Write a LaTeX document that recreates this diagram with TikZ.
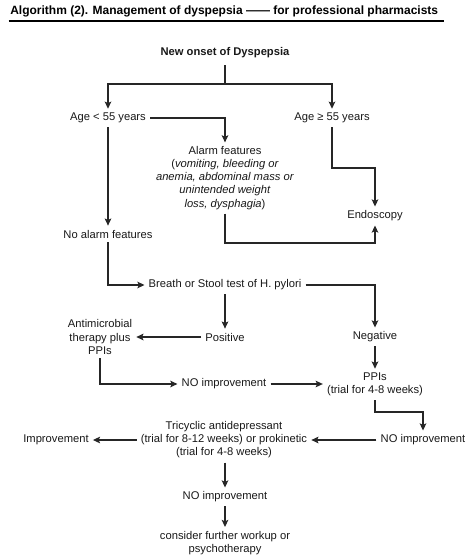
\documentclass[tikz,border=0pt]{standalone}
\usepackage{fontspec}
\setmainfont{Liberation Sans}
\usetikzlibrary{arrows.meta}
\begin{document}
\begin{tikzpicture}[x=0.75pt,y=-0.75pt,
  txt/.style={font=\fontsize{8.4pt}{9.8pt}\selectfont, align=center, inner sep=3pt, text=black!90},
  ln/.style={line width=0.8pt, draw=black!85},
  arr/.style={ln, -{Stealth[length=5.4pt,width=5pt,inset=1.2pt]}}]
\useasboundingbox[fill=white] (0,0) rectangle (474,557);
\node[anchor=base west, font=\bfseries\fontsize{9pt}{11pt}\selectfont, inner sep=0] (title) at (10,14) {Algorithm (2). Management of dyspepsia —— for professional pharmacists};
\draw[line width=1.4pt] ([xshift=-1pt,yshift=-5pt]title.base west) -- ([xshift=4pt,yshift=-5pt]title.base east);

\node[txt, font=\bfseries\fontsize{8.4pt}{9.8pt}\selectfont, inner ysep=5pt] (start) at (225,53) {New onset of Dyspepsia};
\node[txt] (age1) at (108,118) {Age < 55 years};
\node[txt] (age2) at (332,118) {Age ≥ 55 years};
\node[txt] (alarm) at (225,178) {Alarm features\\(\textit{vomiting, bleeding or}\\\textit{anemia, abdominal mass or}\\\textit{unintended weight}\\\textit{loss, dysphagia})};
\node[txt] (endo) at (375,216) {Endoscopy};
\node[txt] (noalarm) at (108,234) {No alarm features};
\node[txt] (breath) at (225,285) {Breath or Stool test of H. pylori};
\node[txt] (pos) at (225,337) {Positive};
\node[txt] (neg) at (375,337) {Negative};
\node[txt] (anti) at (100,337) {Antimicrobial\\therapy plus\\PPIs};
\node[txt] (noimp1) at (224,384) {NO improvement};
\node[txt] (ppis) at (375,384.5) {PPIs\\(trial for 4-8 weeks)};
\node[txt] (noimp2) at (423,440) {NO improvement};
\node[txt] (tri) at (224,440) {Tricyclic antidepressant\\(trial for 8-12 weeks) or prokinetic\\(trial for 4-8 weeks)};
\node[txt] (imp) at (56,440) {Improvement};
\node[txt] (noimp3) at (225,497) {NO improvement};
\node[txt] (consider) at (225,543) {consider further workup or\\psychotherapy};

\coordinate (j1) at (225,84);
\coordinate (b1) at (332,168);
\coordinate (b2) at (225,243);
\coordinate (b3) at (375,412);

\draw[ln] (start) -- (j1);
\draw[arr] (j1) -| (age1);
\draw[arr] (j1) -| (age2);
\draw[arr] (age1) -| (alarm);
\draw[arr] (age1) -- (noalarm);
\draw[arr] (age2) -- (b1) -| (endo);
\draw[arr] (alarm) -- (b2) -| (endo);
\draw[arr] (noalarm) |- (breath);
\draw[arr] (breath) -| (neg);
\draw[arr] (breath) -- (pos);
\draw[arr] (pos) -- (anti);
\draw[arr] (anti) |- (noimp1);
\draw[arr] (noimp1) -- (noimp1 -| ppis.west);
\draw[arr] (neg) -- (ppis);
\draw[arr] (ppis) -- (b3) -| (noimp2);
\draw[arr] (noimp2) -- (tri);
\draw[arr] (tri) -- (imp);
\draw[arr] (tri.south -| noimp3) -- (noimp3);
\draw[arr] (noimp3) -- (consider);
\end{tikzpicture}
\end{document}
